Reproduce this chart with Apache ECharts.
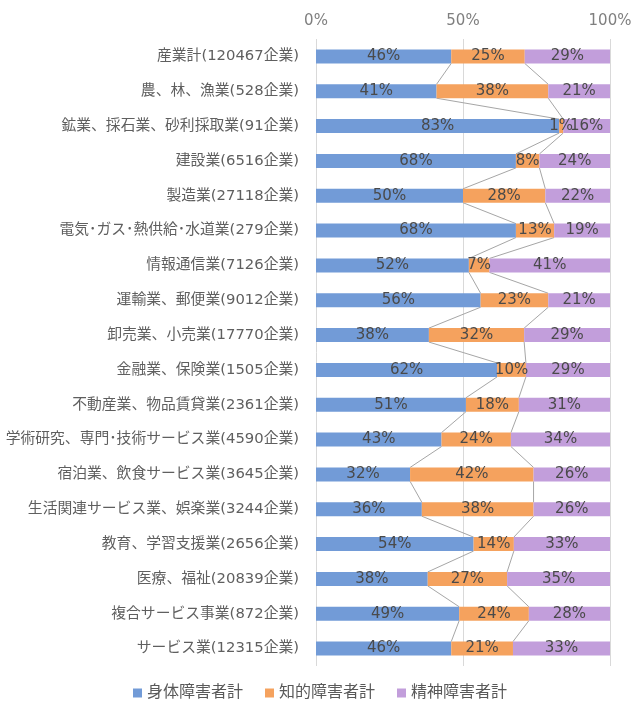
<!DOCTYPE html>
<html>
<head>
<meta charset="utf-8">
<title>障害者計 業種別割合</title>
<script src="https://cdn.jsdelivr.net/npm/echarts@6/dist/echarts.min.js"></script>
<style>
    html, body { margin: 0; padding: 0; background: #fff; }
    #chart { width: 640px; height: 712px; }
</style>
</head>
<body>
<div id="chart"></div>
<script>
var categories = [
    '産業計(120467企業)',
    '農、林、漁業(528企業)',
    '鉱業、採石業、砂利採取業(91企業)',
    '建設業(6516企業)',
    '製造業(27118企業)',
    '電気･ガス･熱供給･水道業(279企業)',
    '情報通信業(7126企業)',
    '運輸業、郵便業(9012企業)',
    '卸売業、小売業(17770企業)',
    '金融業、保険業(1505企業)',
    '不動産業、物品賃貸業(2361企業)',
    '学術研究、専門･技術サービス業(4590企業)',
    '宿泊業、飲食サービス業(3645企業)',
    '生活関連サービス業、娯楽業(3244企業)',
    '教育、学習支援業(2656企業)',
    '医療、福祉(20839企業)',
    '複合サービス事業(872企業)',
    'サービス業(12315企業)'
];
var seriesNames = ['身体障害者計', '知的障害者計', '精神障害者計'];
var physical = [46, 41, 82.7, 68, 50, 68, 52, 56, 38.4, 61.6, 51, 42.7, 32, 36, 53.6, 38, 48.7, 46];
var intellectual = [25, 38, 1.4, 8, 28, 13, 7, 23, 32.4, 9.8, 18, 23.6, 42, 38, 13.7, 27, 23.7, 21];
var mental = [29, 21, 15.9, 24, 22, 19, 41, 21, 29.2, 28.6, 31, 33.7, 26, 26, 32.7, 35, 27.6, 33];
var xTicks = { min: 0, max: 100, interval: 50 };
var colors = ['#729BD7', '#F5A25E', '#C29EDB'];

var font = 'DejaVu Sans, "Noto Sans CJK JP", sans-serif';

// 系列線用: 各棒の区切り位置 (累積値)
var lineData = [];
for (var i = 0; i < categories.length - 1; i++) {
    lineData.push([
        physical[i], i, physical[i + 1], i + 1,
        physical[i] + intellectual[i], physical[i + 1] + intellectual[i + 1]
    ]);
}

function barSeries(name, data, idx) {
    return {
        name: name,
        type: 'bar',
        stack: 'total',
        barWidth: '40%',
        data: data,
        itemStyle: { color: colors[idx] },
        label: {
            show: true,
            position: 'inside',
            color: '#4A4A4A',
            fontSize: 15,
            fontFamily: font,
            formatter: function (p) { return Math.round(p.value) + '%'; }
        },
        emphasis: { disabled: true }
    };
}

var chart = echarts.init(document.getElementById('chart'), null, { renderer: 'canvas' });
chart.setOption({
    animation: false,
    backgroundColor: '#fff',
    grid: { left: 316, right: 30, top: 39, bottom: 46 },
    legend: {
        top: 680,
        left: 'center',
        itemWidth: 9,
        itemHeight: 9,
        itemGap: 22,
        icon: 'rect',
        data: seriesNames,
        textStyle: { color: '#595959', fontSize: 16, fontFamily: font }
    },
    xAxis: {
        type: 'value',
        position: 'top',
        min: xTicks.min,
        max: xTicks.max,
        interval: xTicks.interval,
        axisLine: { show: false },
        axisTick: { show: false },
        axisLabel: {
            formatter: '{value}%',
            color: '#7F7F7F',
            fontSize: 15,
            fontFamily: font,
            margin: 10
        },
        splitLine: { show: true, lineStyle: { color: '#D9D9D9', width: 1 } }
    },
    yAxis: {
        type: 'category',
        inverse: true,
        data: categories,
        axisLine: { show: false },
        axisTick: { show: false },
        axisLabel: {
            color: '#5F5F5F',
            fontSize: 14.8,
            fontFamily: font,
            margin: 17
        }
    },
    series: [
        barSeries(seriesNames[0], physical, 0),
        barSeries(seriesNames[1], intellectual, 1),
        barSeries(seriesNames[2], mental, 2),
        {
            type: 'custom',
            silent: true,
            z: 1,
            data: lineData,
            encode: { x: [0, 2, 4, 5], y: [1, 3] },
            renderItem: function (params, api) {
                var half = api.size([0, 1])[1] * 0.2;
                var a1 = api.coord([api.value(0), api.value(1)]);
                var b1 = api.coord([api.value(2), api.value(3)]);
                var a2 = api.coord([api.value(4), api.value(1)]);
                var b2 = api.coord([api.value(5), api.value(3)]);
                var st = { stroke: '#A6A6A6', lineWidth: 1 };
                return {
                    type: 'group',
                    children: [
                        { type: 'line', shape: { x1: a1[0], y1: a1[1] + half, x2: b1[0], y2: b1[1] - half }, style: st },
                        { type: 'line', shape: { x1: a2[0], y1: a2[1] + half, x2: b2[0], y2: b2[1] - half }, style: st }
                    ]
                };
            }
        }
    ]
});
</script>
</body>
</html>
